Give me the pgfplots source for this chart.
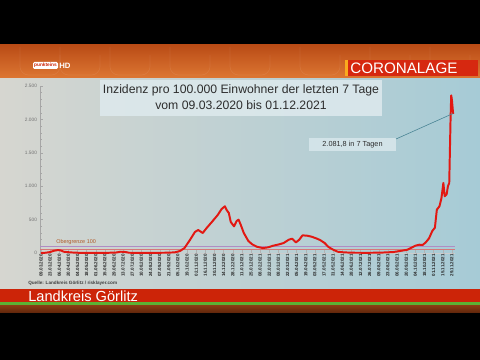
\documentclass[border=0pt]{standalone}
\usepackage{fontspec}
\setmainfont{Liberation Sans}
\usepackage{pgfplots}
\usepackage{pgfplotstable}
\pgfplotsset{compat=1.18}
\definecolor{hdrTop}{RGB}{186,76,22}
\definecolor{hdrBot}{RGB}{222,120,52}
\definecolor{bgL}{RGB}{214,214,208}
\definecolor{bgM}{RGB}{196,210,212}
\definecolor{bgR}{RGB}{166,203,214}
\definecolor{bandred}{RGB}{204,36,8}
\definecolor{bandgreen}{RGB}{92,178,52}
\definecolor{brownT}{RGB}{140,62,20}
\definecolor{brownB}{RGB}{100,40,12}
\definecolor{corored}{RGB}{214,40,16}
\definecolor{coroyel}{RGB}{250,170,30}
\definecolor{titlebox}{RGB}{222,234,238}
\definecolor{titletext}{RGB}{45,45,45}
\definecolor{curve}{RGB}{226,24,18}
\definecolor{lim100}{RGB}{176,140,196}
\definecolor{lim50}{RGB}{214,120,120}
\definecolor{oberg}{RGB}{176,90,40}
\definecolor{annline}{RGB}{70,130,146}
\definecolor{annbox}{RGB}{214,230,235}
\pgfplotstableread{
day val
0 0
7 5
14 15
20 35
26 45
30 40
35 20
45 10
60 3
80 2
100 3
115 8
122 20
128 18
135 5
150 2
170 3
190 5
205 10
213 30
220 75
228 190
236 315
241 345
245 320
248 300
254 375
262 465
271 570
277 660
282 700
285 640
288 600
291 465
296 400
300 480
303 500
306 430
311 300
318 180
324 130
331 95
340 75
348 85
356 110
365 130
372 150
380 200
385 215
391 160
396 200
401 265
408 260
415 245
422 220
428 195
435 150
441 90
448 50
455 20
465 10
480 5
500 4
520 6
540 15
550 30
556 40
562 50
568 80
574 110
580 125
585 120
590 160
595 220
600 330
604 380
607 650
611 700
614 820
617 1050
619 850
622 880
624 1000
626 1050
628 2000
629 2360
630 2300
632 2081.8
}\inzidenz
\begin{document}
\begin{tikzpicture}
\begin{scope}[x=0.025cm,y=-0.025cm]
\useasboundingbox (0,0) rectangle (480,360);
\fill[black] (0,0) rectangle (480,360);
\shade[top color=hdrTop, bottom color=hdrBot] (0,45) rectangle (480,79);
\foreach \xx in {20,60,110,170,230,300,370,430}{\draw[white, opacity=0.07, line width=0.5pt, rounded corners=6pt] (\xx,47) -- (\xx,75) -- (\xx+40,75) -- (\xx+40,55);}
\shade[left color=bgL, right color=bgR] (0,79) rectangle (480,289);
\fill[bandred] (0,289) rectangle (480,302);
\fill[bandgreen] (0,302) rectangle (480,305);
\shade[top color=brownT, bottom color=brownB] (0,305) rectangle (480,312);
% CORONALAGE
\fill[corored] (345,60) rectangle (478,76);
\fill[coroyel] (345,60) rectangle (348,76);
\node[anchor=west, text=white, inner sep=0pt, font=\fontsize{10.8}{12}\selectfont] at (350,68.3) {CORONALAGE};
% logo
\fill[white, rounded corners=1pt] (33,62) rectangle (58,69);
\node[anchor=center, text=bandred, inner sep=0pt, font=\bfseries\fontsize{3.4}{4}\selectfont] at (45.5,65.5) {punkteins};
\node[anchor=west, text=white, inner sep=0pt, font=\bfseries\fontsize{5.5}{6}\selectfont] at (59,65.5) {HD};
% title box
\fill[titlebox, opacity=0.85] (100,80) rectangle (382,116);
\node[align=center, text=titletext, inner sep=0pt, font=\fontsize{8.7}{11.3}\selectfont] at (241,97) {Inzidenz pro 100.000 Einwohner der letzten 7 Tage\\vom 09.03.2020 bis 01.12.2021};
\end{scope}
\begin{axis}[
  at={(1cm,-6.325cm)}, anchor=south west,
  scale only axis, width=10.375cm, height=4.175cm,
  xmin=-1.5, xmax=635, ymin=0, ymax=2500,
  axis y line*=left, axis x line*=bottom,
  clip=false,
  y axis line style={draw=gray!70, line width=0.3pt, -},
  x axis line style={draw=gray!40, line width=0.2pt, -},
  ytick={0,500,...,2500},
  minor y tick num=4,
  ytick style={draw=gray!70, line width=0.3pt},
  minor tick length=1.2pt, major tick length=2pt,
  xtick={0,14,...,630},
  xtick style={draw=gray!60, line width=0.2pt},
  xticklabels={09.03.2020,23.03.2020,06.04.2020,20.04.2020,04.05.2020,18.05.2020,01.06.2020,15.06.2020,29.06.2020,13.07.2020,27.07.2020,10.08.2020,24.08.2020,07.09.2020,21.09.2020,05.10.2020,19.10.2020,02.11.2020,16.11.2020,30.11.2020,14.12.2020,28.12.2020,11.01.2021,25.01.2021,08.02.2021,22.02.2021,08.03.2021,22.03.2021,05.04.2021,19.04.2021,03.05.2021,17.05.2021,31.05.2021,14.06.2021,28.06.2021,12.07.2021,26.07.2021,09.08.2021,23.08.2021,06.09.2021,20.09.2021,04.10.2021,18.10.2021,01.11.2021,15.11.2021,29.11.2021},
  x tick label style={rotate=90, anchor=east, inner sep=0.6pt, text=black!85, font=\bfseries\fontsize{3.2}{4}\selectfont},
  y tick label style={inner sep=0.5pt, text=gray!90!black, font=\fontsize{3.4}{4}\selectfont, xshift=-1.5pt},
  /pgf/number format/assume math mode=true,
  /pgf/number format/.cd, use comma, 1000 sep={.},
]
\addplot[lim100, line width=0.5pt] coordinates {(-1.5,100) (635,100)};
\addplot[lim50, line width=0.5pt] coordinates {(-1.5,50) (635,50)};
\addplot[curve, line width=1.4pt, line join=round] table[x=day, y=val] {\inzidenz};
\end{axis}
\begin{scope}[x=0.025cm,y=-0.025cm]
\node[anchor=west, text=oberg, inner sep=0pt, font=\fontsize{3.9}{4.5}\selectfont] at (56,242.5) {Obergrenze 100};
\fill[annbox, opacity=0.9] (309,138) rectangle (396,151);
\node[text=titletext, inner sep=0pt, font=\fontsize{5.2}{6}\selectfont] at (352.5,144.5) {2.081,8 in 7 Tagen};
\draw[annline, line width=0.4pt] (396,139) -- (453,113.5);
\node[anchor=west, text=black!75, inner sep=0pt, font=\bfseries\fontsize{3.3}{4}\selectfont] at (28,283.5) {Quelle: Landkreis Görlitz / risklayer.com};
\node[anchor=west, text=white, inner sep=0pt, font=\fontsize{10.4}{12}\selectfont] at (28,296) {Landkreis Görlitz};
\end{scope}
\end{tikzpicture}
\end{document}
